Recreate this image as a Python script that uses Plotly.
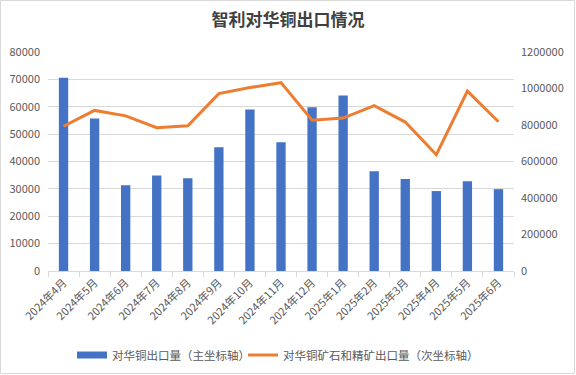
import plotly.graph_objects as go

categories = ["2024年4月", "2024年5月", "2024年6月", "2024年7月", "2024年8月", "2024年9月",
              "2024年10月", "2024年11月", "2024年12月", "2025年1月", "2025年2月", "2025年3月",
              "2025年4月", "2025年5月", "2025年6月"]
copper_exports = [70600, 55700, 31300, 34900, 33900, 45200, 59000, 47000, 59800, 64100,
                  36400, 33600, 29200, 32800, 29900]
ore_exports = [793000, 880000, 850000, 785000, 796000, 972000, 1005000, 1032000, 826000,
               838000, 906000, 816000, 637000, 986000, 818000]
bar_name = "对华铜出口量（主坐标轴）"
line_name = "对华铜矿石和精矿出口量（次坐标轴）"

font_cjk = "Noto Sans CJK SC, Microsoft YaHei, sans-serif"
grid = "#D9D9D9"
txt = "#595959"
blue = "#4472C4"
orange = "#ED7D31"

fig = go.Figure()
fig.add_trace(go.Bar(x=categories, y=copper_exports, name=bar_name, showlegend=False,
                     marker=dict(color=blue, line=dict(width=0)), yaxis="y"))
fig.add_trace(go.Scatter(x=categories, y=ore_exports, name=line_name, legend="legend2",
                         mode="lines", line=dict(color=orange, width=3), yaxis="y2"))
# legend-only entry giving the bar series a wide rectangular key
fig.add_trace(go.Scatter(x=[None], y=[None], name=bar_name, mode="lines", legend="legend",
                         line=dict(color=blue, width=7), hoverinfo="skip"))

W, H = 576, 375
l, r, t, b = 48, 62, 52, 104
pw, ph = W - l - r, H - t - b

leg_common = dict(orientation="h", xref="container", xanchor="left", yref="container",
                  yanchor="middle", font=dict(size=11.5, color=txt), itemwidth=30,
                  bgcolor="rgba(0,0,0,0)")

fig.update_layout(
    width=W, height=H,
    margin=dict(l=l, r=r, t=t, b=b, autoexpand=False),
    paper_bgcolor="white", plot_bgcolor="white",
    font=dict(family=font_cjk, size=11, color=txt),
    title=dict(text="<b>智利对华铜出口情况</b>", x=0.5, xref="container", xanchor="center",
               y=1 - 20 / H, yref="container", yanchor="middle",
               font=dict(family=font_cjk, size=17, color="#404040")),
    bargap=0.7,
    showlegend=True,
    legend=dict(x=72 / W, y=1 - 355 / H, **leg_common),
    legend2=dict(x=243 / W, y=1 - 355 / H, **leg_common),
    xaxis=dict(type="category", showgrid=False, showline=True, linecolor=grid,
               ticks="outside", tickson="boundaries", ticklen=5, tickcolor=grid,
               tickangle=-45, tickfont=dict(size=11, color=txt), automargin=False),
    yaxis=dict(range=[0, 80000], dtick=10000, showgrid=True, gridcolor=grid, gridwidth=1,
               zeroline=False, showline=False, tickformat="d", ticks="",
               ticklabelstandoff=7,
               tickfont=dict(size=11, color=txt), automargin=False),
    yaxis2=dict(range=[0, 1200000], dtick=200000, overlaying="y", side="right",
                showgrid=False, zeroline=False, showline=False, tickformat="d",
                ticklabelstandoff=6,
                tickfont=dict(size=11, color=txt), automargin=False),
    shapes=[dict(type="rect", xref="paper", yref="paper",
                 x0=-(l - 0.5) / pw, x1=1 + (r - 1.5) / pw,
                 y0=-(b - 1.5) / ph, y1=1 + (t - 0.5) / ph,
                 line=dict(color="#D9D9D9", width=1), fillcolor="rgba(0,0,0,0)", layer="below")],
)

fig.write_html("out.html", config={"displayModeBar": False},
               post_script="document.body.style.margin='0';")
